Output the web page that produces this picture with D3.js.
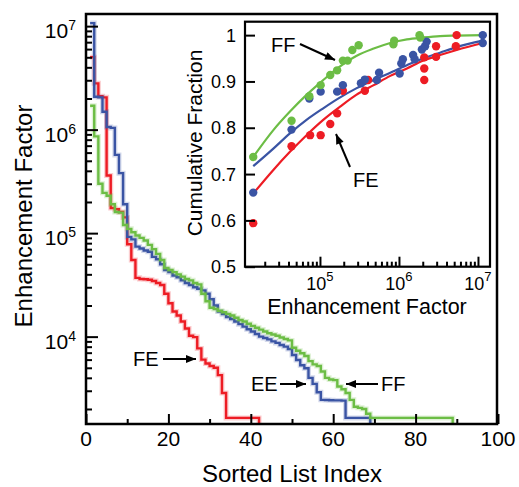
<!DOCTYPE html>
<html>
<head>
<meta charset="utf-8">
<script src="https://cdn.jsdelivr.net/npm/d3@7"></script>
<style>
  body { margin: 0; background: #fff; }
  svg { display: block; }
  text { font-family: "Liberation Sans", Arial, Helvetica, sans-serif; fill: #000; }
</style>
</head>
<body>
<svg id="chart" width="519" height="487"></svg>
<script>
// ---- data: enhancement factor per sorted list index (index 1..N) ----
const feSorted = [5.0e6, 2.8e6, 2.1e6, 2.05e6, 3.6e5, 1.75e5, 1.7e5, 1.6e5, 1.42e5, 7.8e4,
    5.5e4, 3.7e4, 3.6e4, 3.58e4, 3.55e4, 3.45e4, 3.3e4, 3.15e4, 2.6e4, 2.1e4,
    1.75e4, 1.6e4, 1.4e4, 1.2e4, 1.02e4, 9.9e3, 7.7e3, 6.0e3, 5.5e3, 5.2e3,
    5.0e3, 4.25e3, 2.85e3, 1.64e3, 1.64e3, 1.64e3, 1.64e3, 1.64e3, 1.64e3, 1.64e3,
    1.64e3, 1.0e3];
const eeSorted = [1.07e7, 2.08e6, 2.05e6, 1.49e6, 1.06e6, 1.04e6, 5.7e5, 3.8e5, 1.9e5, 9.2e4,
    8.7e4, 7.4e4, 7.1e4, 6.8e4, 6.6e4, 5.9e4, 5.6e4, 5.0e4, 4.4e4, 4.2e4,
    3.9e4, 3.75e4, 3.5e4, 3.3e4, 3.15e4, 3.0e4, 2.9e4, 2.8e4, 2.6e4, 2.3e4,
    2.0e4, 1.75e4, 1.65e4, 1.55e4, 1.48e4, 1.4e4, 1.32e4, 1.25e4, 1.18e4, 1.12e4,
    1.06e4, 1.0e4, 9.7e3, 9.4e3, 9.0e3, 8.7e3, 8.3e3, 8.0e3, 7.6e3, 6.65e3,
    5.95e3, 5.3e3, 4.95e3, 4.0e3, 3.5e3, 2.9e3, 2.45e3, 2.44e3, 2.43e3, 2.42e3,
    2.42e3, 2.41e3, 1.64e3, 1.64e3, 1.64e3, 1.64e3, 1.64e3, 1.64e3, 1.0e3];
const ffSorted = [1.7e6, 8.6e5, 3.0e5, 2.45e5, 2.3e5, 1.9e5, 1.6e5, 1.58e5, 1.2e5, 1.1e5,
    1.02e5, 9.5e4, 9.0e4, 8.5e4, 7.7e4, 7.0e4, 6.3e4, 5.5e4, 4.6e4, 4.4e4,
    4.2e4, 4.0e4, 3.8e4, 3.6e4, 3.5e4, 3.3e4, 3.2e4, 2.6e4, 2.2e4, 1.9e4,
    1.85e4, 1.78e4, 1.72e4, 1.66e4, 1.6e4, 1.52e4, 1.45e4, 1.4e4, 1.33e4, 1.27e4,
    1.22e4, 1.17e4, 1.12e4, 1.08e4, 1.05e4, 1.02e4, 9.8e3, 9.5e3, 9.2e3, 7.8e3,
    7.3e3, 6.9e3, 6.5e3, 5.8e3, 5.4e3, 5.2e3, 4.6e3, 4.0e3, 3.85e3, 3.8e3,
    3.3e3, 3.1e3, 2.85e3, 2.45e3, 2.1e3, 2.05e3, 2.0e3, 1.8e3, 1.64e3, 1.64e3,
    1.64e3, 1.64e3, 1.64e3, 1.64e3, 1.64e3, 1.64e3, 1.64e3, 1.64e3, 1.64e3, 1.64e3,
    1.64e3, 1.64e3, 1.64e3, 1.64e3, 1.64e3, 1.64e3, 1.64e3, 1.64e3, 1.0e3];

const indexTicks = [0, 20, 40, 60, 80, 100];
const indexMinorTicks = [10, 30, 50, 70, 90];
const efDecades = [1e4, 1e5, 1e6, 1e7];

// ---- inset: cumulative fraction vs enhancement factor ----
const ffPoints = [[1.43e4, 0.737], [4.37e4, 0.815], [7.33e4, 0.868], [1.02e5, 0.892], [1.35e5, 0.914],
    [1.65e5, 0.924], [1.95e5, 0.945], [2.24e5, 0.945], [2.57e5, 0.968], [3.09e5, 0.978],
    [8.5e5, 0.98], [8.7e5, 0.988], [1.82e6, 1.0], [1.86e6, 0.995]];
const eePoints = [[1.43e4, 0.66], [4.37e4, 0.796], [7.33e4, 0.863], [1.02e5, 0.878], [1.65e5, 0.878],
    [1.95e5, 0.892], [3.3e5, 0.896], [3.7e5, 0.904], [5.25e5, 0.903], [5.6e5, 0.919],
    [1.02e6, 0.917], [1.07e6, 0.939], [1.12e6, 0.948], [1.51e6, 0.957], [1.58e6, 0.948],
    [1.95e6, 0.969], [2.14e6, 0.976], [2.24e6, 0.986], [1.15e7, 1.0], [1.15e7, 0.983]];
const fePoints = [[1.43e4, 0.594], [4.37e4, 0.76], [7.5e4, 0.784], [1.02e5, 0.784], [1.35e5, 0.808],
    [1.65e5, 0.831], [1.95e5, 0.88], [3.7e5, 0.88], [4.07e5, 0.903], [2.09e6, 0.952],
    [2.09e6, 0.928], [2.09e6, 0.903], [2.95e6, 0.953], [2.95e6, 0.976], [5.25e6, 0.976],
    [5.37e6, 1.0]];

const fitEF = [1.43e4, 2.57e4, 4.17e4, 6.76e4, 1.1e5, 1.78e5, 2.88e5, 4.79e5, 7.76e5, 1.26e6,
    2.04e6, 3.31e6, 5.37e6, 1.15e7];
const ffFit = [0.737, 0.795, 0.835, 0.871, 0.903, 0.932, 0.955, 0.971, 0.983, 0.991, 0.995, 0.998, 0.999, 1.0];
const eeFit = [0.717, 0.755, 0.788, 0.817, 0.842, 0.865, 0.885, 0.903, 0.919, 0.935, 0.95, 0.962, 0.974, 0.988];
const feFit = [0.658, 0.709, 0.748, 0.784, 0.817, 0.845, 0.871, 0.892, 0.912, 0.928, 0.945, 0.957, 0.968, 0.983];

const fracTicks = [0.5, 0.6, 0.7, 0.8, 0.9, 1];
const insetDecades = [1e5, 1e6, 1e7];

const RED = "#ed1c24", BLUE = "#3a54a4", GREEN = "#6cbd45";

const svg = d3.select("#chart");

// arrow head
svg.append("defs").append("marker")
    .attr("id", "head")
    .attr("viewBox", "0 0 10 8")
    .attr("refX", 10).attr("refY", 4)
    .attr("markerWidth", 11).attr("markerHeight", 8)
    .attr("markerUnits", "userSpaceOnUse")
    .attr("orient", "auto")
    .append("path").attr("d", "M0,0L10,4L0,8Z").attr("fill", "#000");

svg.select("defs").append("clipPath").attr("id", "plotclip")
    .append("rect").attr("x", 86).attr("y", 14).attr("width", 412).attr("height", 410);

// ---- main plot ----
const x = d3.scaleLinear().domain([0, 100]).range([86, 498]);
const y = d3.scaleLog().domain([1432, 1.31e7]).range([424, 14]);

const step = d3.line()
    .x((d, i) => x(i + 1))
    .y(d => y(d))
    .curve(d3.curveStepAfter);

const lines = svg.append("g").attr("clip-path", "url(#plotclip)");
[[feSorted, RED], [eeSorted, BLUE], [ffSorted, GREEN]].forEach(([data, color]) => {
    lines.append("path").attr("d", step(data))
        .attr("fill", "none").attr("stroke", color)
        .attr("stroke-width", 5).attr("stroke-opacity", 0.22);
    lines.append("path").attr("d", step(data))
        .attr("fill", "none").attr("stroke", color)
        .attr("stroke-width", 2.4);
});

// ticks (inward)
const axisStyle = sel => {
    sel.select(".domain").remove();
    sel.selectAll(".tick line").attr("stroke", "#000").attr("stroke-width", 2);
};
svg.append("g").attr("transform", "translate(0,424)")
    .call(d3.axisBottom(x).tickValues(indexTicks).tickSize(-10).tickFormat(""))
    .call(axisStyle);
svg.append("g").attr("transform", "translate(0,424)")
    .call(d3.axisBottom(x).tickValues(indexMinorTicks).tickSize(-5).tickFormat(""))
    .call(axisStyle);

const yMinor = y.ticks().filter(d => !efDecades.includes(d));
svg.append("g").attr("transform", "translate(86,0)")
    .call(d3.axisLeft(y).tickValues(efDecades).tickSize(-12).tickFormat(""))
    .call(axisStyle);
svg.append("g").attr("transform", "translate(86,0)")
    .call(d3.axisLeft(y).tickValues(yMinor).tickSize(-6).tickFormat(""))
    .call(axisStyle);

// frame
svg.append("rect").attr("x", 86).attr("y", 14).attr("width", 411).attr("height", 410)
    .attr("fill", "none").attr("stroke", "#000").attr("stroke-width", 2.5);

// tick labels
svg.selectAll(".xlab").data(indexTicks).join("text")
    .attr("x", d => x(d)).attr("y", 446)
    .attr("text-anchor", "middle").style("font-size", "21px")
    .text(d => d);

svg.selectAll(".ylab").data(efDecades).join("text")
    .attr("x", 76).attr("y", d => y(d) + 12)
    .attr("text-anchor", "end").style("font-size", "21px")
    .each(function (d) {
        const t = d3.select(this);
        t.append("tspan").text("10");
        t.append("tspan").attr("dy", -8).style("font-size", "14px").text(Math.round(Math.log10(d)));
    });

svg.append("text").attr("x", 292).attr("y", 482)
    .attr("text-anchor", "middle").style("font-size", "24px")
    .text("Sorted List Index");
svg.append("text").attr("transform", "translate(31.5,216) rotate(-90)")
    .attr("text-anchor", "middle").style("font-size", "24px")
    .text("Enhancement Factor");

// annotations on main plot
const label = (tx, ty, str) => svg.append("text").attr("x", tx).attr("y", ty)
    .style("font-size", "20px").text(str);
const arrow = (x1, y1, x2, y2) => svg.append("line")
    .attr("x1", x1).attr("y1", y1).attr("x2", x2).attr("y2", y2)
    .attr("stroke", "#000").attr("stroke-width", 2).attr("marker-end", "url(#head)");

label(133, 366, "FE"); arrow(163, 359, 196, 359);
label(251, 391, "EE"); arrow(280, 384, 306, 384);
label(381, 391, "FF"); arrow(378, 384, 346, 384);

// ---- inset ----
const xi = d3.scaleLog().domain([1.125e4, 1.42e7]).range([245, 490]);
const yi = d3.scaleLinear().domain([0.5, 1.029]).range([266.7, 21.7]);

svg.append("rect").attr("x", 245).attr("y", 21.7).attr("width", 245).attr("height", 245)
    .attr("fill", "#fff");

const fitLine = d3.line()
    .x((d, i) => xi(fitEF[i]))
    .y(d => yi(d))
    .curve(d3.curveMonotoneX);

[[feFit, RED], [eeFit, BLUE], [ffFit, GREEN]].forEach(([fit, color]) => {
    svg.append("path").attr("d", fitLine(fit))
        .attr("fill", "none").attr("stroke", color).attr("stroke-width", 2.2);
});

[[fePoints, RED], [eePoints, BLUE], [ffPoints, GREEN]].forEach(([pts, color]) => {
    svg.append("g").selectAll("circle").data(pts).join("circle")
        .attr("cx", d => xi(d[0])).attr("cy", d => yi(d[1]))
        .attr("r", 4.2).attr("fill", color);
});

const xiMinor = xi.ticks().filter(d => !insetDecades.includes(d) && d >= 2e4);
svg.append("g").attr("transform", "translate(0,266.7)")
    .call(d3.axisBottom(xi).tickValues(insetDecades).tickSize(-10).tickFormat(""))
    .call(axisStyle);
svg.append("g").attr("transform", "translate(0,266.7)")
    .call(d3.axisBottom(xi).tickValues(xiMinor).tickSize(-5).tickFormat(""))
    .call(axisStyle);
svg.append("g").attr("transform", "translate(245,0)")
    .call(d3.axisLeft(yi).tickValues(fracTicks).tickSize(-10).tickFormat(""))
    .call(axisStyle);

svg.append("rect").attr("x", 245).attr("y", 21.7).attr("width", 245).attr("height", 245)
    .attr("fill", "none").attr("stroke", "#000").attr("stroke-width", 2.2);

svg.selectAll(".fraclab").data(fracTicks).join("text")
    .attr("x", 236).attr("y", d => yi(d) + 6.5)
    .attr("text-anchor", "end").style("font-size", "18px")
    .text(d => d === 1 ? "1" : d3.format(".1f")(d));

svg.selectAll(".insetxlab").data(insetDecades).join("text")
    .attr("x", d => xi(d)).attr("y", 290)
    .attr("text-anchor", "middle").style("font-size", "18px")
    .each(function (d) {
        const t = d3.select(this);
        t.append("tspan").text("10");
        t.append("tspan").attr("dy", -9).style("font-size", "13px").text(Math.round(Math.log10(d)));
    });

svg.append("text").attr("x", 367).attr("y", 314)
    .attr("text-anchor", "middle").style("font-size", "21.5px")
    .text("Enhancement Factor");
svg.append("text").attr("transform", "translate(202,143) rotate(-90)")
    .attr("text-anchor", "middle").style("font-size", "21px")
    .text("Cumulative Fraction");

label(271, 52, "FF"); arrow(300, 44, 335, 60);
label(353, 187, "FE"); arrow(350, 167, 336, 134);
</script>
</body>
</html>
